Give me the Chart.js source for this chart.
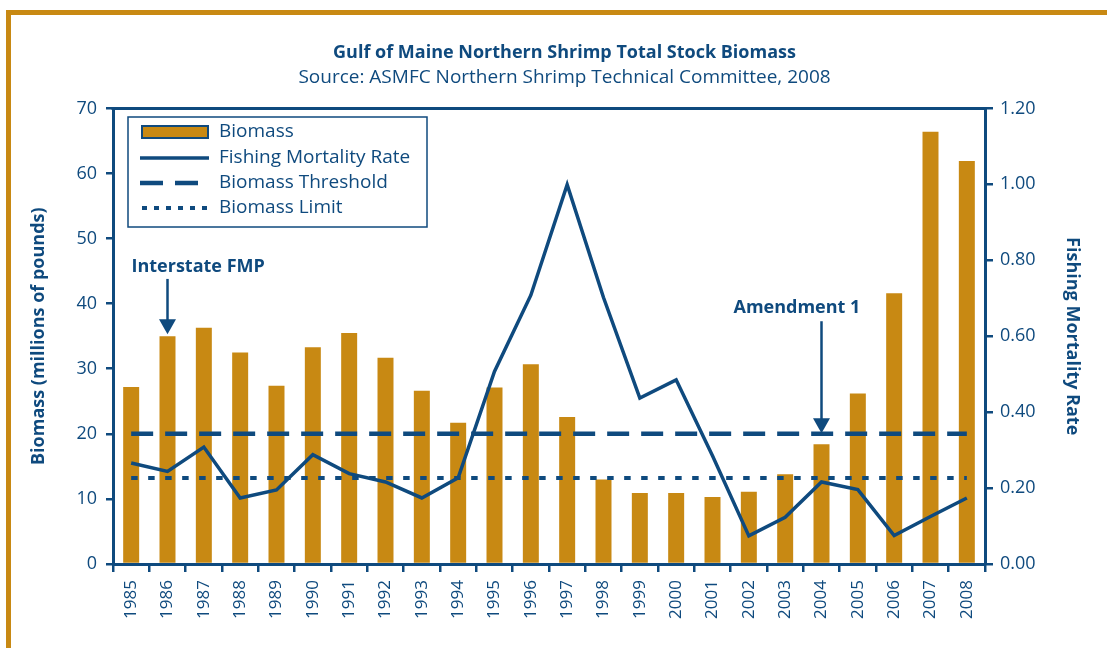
<!DOCTYPE html>
<html>
<head>
<meta charset="utf-8">
<script src="https://cdn.jsdelivr.net/npm/chart.js@4.4.1/dist/chart.umd.min.js"></script>
<style>
  html, body { margin: 0; padding: 0; background: #fff; }
  #wrap { position: relative; width: 1107px; height: 648px; }
</style>
</head>
<body>
<div id="wrap"><canvas id="chart" width="1107" height="648"></canvas></div>
<script>
// data
var years = ['1985','1986','1987','1988','1989','1990','1991','1992','1993','1994','1995','1996',
             '1997','1998','1999','2000','2001','2002','2003','2004','2005','2006','2007','2008'];
var biomass = [27.2, 35.0, 36.3, 32.5, 27.4, 33.3, 35.5, 31.7, 26.6, 21.7, 27.1, 30.7,
               22.6, 13.0, 10.9, 10.9, 10.3, 11.1, 13.8, 18.4, 26.2, 41.6, 66.4, 61.9];
var mortality = [0.266, 0.244, 0.308, 0.174, 0.195, 0.288, 0.238, 0.216, 0.174, 0.227, 0.507, 0.708,
                 0.999, 0.702, 0.437, 0.485, 0.285, 0.074, 0.123, 0.216, 0.196, 0.075, 0.125, 0.174];
var biomassThreshold = 20;
var biomassLimit = 13.2;
var leftTicks = [0, 10, 20, 30, 40, 50, 60, 70];
var rightTicks = [0, 0.2, 0.4, 0.6, 0.8, 1.0, 1.2];

var NAVY = '#0f4a7e';
var GOLD = '#c88913';
var FONT = "'Open Sans', 'DejaVu Sans', sans-serif";

// arrows pointing at years, y in biomass units
var notes = [
  {text: 'Interstate FMP', year: '1986', textY: 45.7, from: 43.8, to: 35.3, dx: -36},
  {text: 'Amendment 1', year: '2004', textY: 39.4, from: 37.3, to: 20.1, dx: -88}
];

var framePlugin = {
  id: 'frame',
  beforeDraw: function(chart) {
    var c = chart.ctx;
    c.save();
    c.fillStyle = '#fff';
    c.fillRect(0, 0, chart.width, chart.height);
    c.fillStyle = GOLD;
    c.fillRect(6, 10, chart.width - 6, 5);
    c.fillRect(6, 10, 5, chart.height - 10);
    c.restore();
  },
  afterDraw: function(chart) {
    var c = chart.ctx, a = chart.chartArea;
    c.save();
    // top line of the plot box
    c.strokeStyle = NAVY;
    c.lineWidth = 3;
    c.beginPath();
    c.moveTo(a.left - 1.5, a.top);
    c.lineTo(a.right + 1.5, a.top);
    c.stroke();

    // annotations
    var x = chart.scales.x, y = chart.scales.y;
    c.fillStyle = NAVY;
    c.font = "bold 18px " + FONT;
    c.textBaseline = 'middle';
    notes.forEach(function(n) {
      var px = x.getPixelForValue(years.indexOf(n.year));
      c.textAlign = 'left';
      c.fillText(n.text, px + n.dx, y.getPixelForValue(n.textY));
      var y0 = y.getPixelForValue(n.from), y1 = y.getPixelForValue(n.to);
      c.lineWidth = 2.5;
      c.beginPath();
      c.moveTo(px, y0);
      c.lineTo(px, y1 - 14);
      c.stroke();
      c.beginPath();
      c.moveTo(px - 8.5, y1 - 15);
      c.lineTo(px + 8.5, y1 - 15);
      c.lineTo(px, y1);
      c.closePath();
      c.fill();
    });

    // legend box
    var bx = 128, by = 117, bw = 299, bh = 110;
    c.fillStyle = '#fff';
    c.fillRect(bx, by, bw, bh);
    c.strokeStyle = NAVY;
    c.lineWidth = 1.5;
    c.strokeRect(bx, by, bw, bh);
    var rows = [132, 158, 183, 208];
    var ds = chart.data.datasets;
    c.font = "19px " + FONT;
    c.textAlign = 'left';
    ds.forEach(function(d, k) {
      var ry = rows[k];
      if (d.type === 'bar') {
        c.fillStyle = GOLD;
        c.fillRect(142, ry - 6, 66, 12);
        c.strokeStyle = NAVY;
        c.lineWidth = 2;
        c.strokeRect(142, ry - 6, 66, 12);
      } else {
        c.strokeStyle = NAVY;
        c.lineWidth = d.borderWidth;
        c.setLineDash(d.legendDash || []);
        c.beginPath();
        c.moveTo(k === 3 ? 142 : 140, ry);
        c.lineTo(209, ry);
        c.stroke();
        c.setLineDash([]);
      }
      c.fillStyle = NAVY;
      c.fillText(d.label, 219, ry);
    });
    c.restore();
  }
};

var ctx = document.getElementById('chart').getContext('2d');
new Chart(ctx, {
  data: {
    labels: years,
    datasets: [
      {
        type: 'bar',
        label: 'Biomass',
        data: biomass,
        backgroundColor: GOLD,
        borderWidth: 0,
        barPercentage: 0.44,
        categoryPercentage: 1.0,
        yAxisID: 'y',
        order: 5
      },
      {
        type: 'line',
        label: 'Fishing Mortality Rate',
        data: mortality,
        borderColor: NAVY,
        borderWidth: 3.5,
        pointRadius: 0,
        tension: 0,
        fill: false,
        yAxisID: 'y1',
        order: 1
      },
      {
        type: 'line',
        label: 'Biomass Threshold',
        data: [{x: years[0], y: biomassThreshold}, {x: years[years.length - 1], y: biomassThreshold}],
        borderColor: NAVY,
        borderWidth: 4.5,
        borderDash: [22, 12],
        legendDash: [23, 12],
        pointRadius: 0,
        fill: false,
        yAxisID: 'y',
        order: 2
      },
      {
        type: 'line',
        label: 'Biomass Limit',
        data: [{x: years[0], y: biomassLimit}, {x: years[years.length - 1], y: biomassLimit}],
        borderColor: NAVY,
        borderWidth: 4,
        borderDash: [6.5, 10.5],
        legendDash: [5, 7],
        pointRadius: 0,
        fill: false,
        yAxisID: 'y',
        order: 3
      }
    ]
  },
  options: {
    responsive: false,
    animation: false,
    layout: { padding: { left: 22, right: 0, top: 28, bottom: 0 } },
    plugins: {
      legend: { display: false },
      tooltip: { enabled: false },
      title: {
        display: true,
        text: 'Gulf of Maine Northern Shrimp Total Stock Biomass',
        color: NAVY,
        font: { family: FONT, size: 18, weight: 'bold' },
        padding: { top: 14, bottom: 3 }
      },
      subtitle: {
        display: true,
        text: 'Source: ASMFC Northern Shrimp Technical Committee, 2008',
        color: NAVY,
        font: { family: FONT, size: 19 },
        padding: { top: 0, bottom: 19 }
      }
    },
    scales: {
      x: {
        type: 'category',
        offset: true,
        grid: { display: true, offset: true, drawOnChartArea: false, drawTicks: true,
                tickLength: 8, color: NAVY, lineWidth: 2.5 },
        border: { display: true, color: NAVY, width: 3 },
        ticks: { color: NAVY, font: { family: FONT, size: 17 }, minRotation: 90, maxRotation: 90,
                 autoSkip: false, padding: 8 },
        afterFit: function(s) { s.height = 84; }
      },
      y: {
        position: 'left',
        min: 0, max: 70,
        afterBuildTicks: function(s) { s.ticks = leftTicks.map(function(v) { return {value: v}; }); },
        grid: { display: true, drawOnChartArea: false, drawTicks: true, tickLength: 7,
                color: NAVY, lineWidth: 2.5 },
        border: { display: true, color: NAVY, width: 3 },
        ticks: { color: NAVY, font: { family: FONT, size: 18 }, padding: 9 },
        title: { display: true, text: 'Biomass (millions of pounds)', color: NAVY,
                 font: { family: FONT, size: 18, weight: 'bold' }, padding: { top: 6, bottom: 0 } },
        afterFit: function(s) { s.width = 91; }
      },
      y1: {
        position: 'right',
        min: 0, max: 1.2,
        afterBuildTicks: function(s) { s.ticks = rightTicks.map(function(v) { return {value: v}; }); },
        grid: { display: true, drawOnChartArea: false, drawTicks: true, tickLength: 8,
                color: NAVY, lineWidth: 2.5 },
        border: { display: true, color: NAVY, width: 3 },
        ticks: { color: NAVY, font: { family: FONT, size: 18 }, padding: 7,
                 callback: function(v) { return Number(v).toFixed(2); } },
        title: { display: true, text: 'Fishing Mortality Rate', color: NAVY,
                 font: { family: FONT, size: 18, weight: 'bold' }, padding: { top: 24, bottom: 0 } },
        afterFit: function(s) { s.width = 122; }
      }
    }
  },
  plugins: [framePlugin]
});
</script>
</body>
</html>
